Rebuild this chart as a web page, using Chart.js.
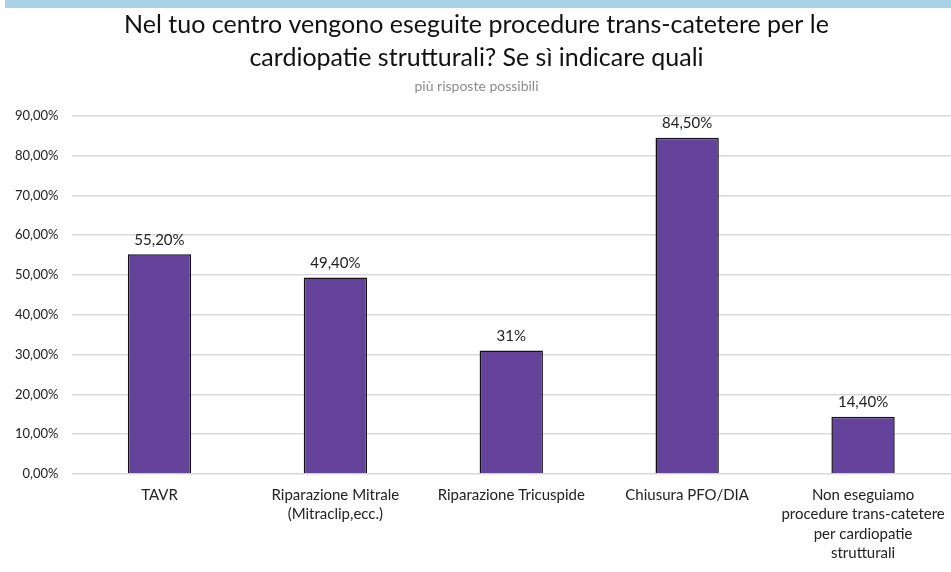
<!DOCTYPE html>
<html>
<head>
<meta charset="utf-8">
<script src="https://cdn.jsdelivr.net/npm/chart.js@4/dist/chart.umd.min.js"></script>
<style>
  html, body { margin: 0; padding: 0; background: #fff; }
  .band { position: absolute; left: 5px; top: 0; width: 946px; height: 8px; background: #a9d1e6; }
  .wrap { position: absolute; left: 0; top: 0; width: 951px; height: 572px; }
</style>
</head>
<body>
<div class="band"></div>
<div class="wrap"><canvas id="chart"></canvas></div>
<script>
// Data
const categories = [
  'TAVR',
  ['Riparazione Mitrale', '(Mitraclip,ecc.)'],
  'Riparazione Tricuspide',
  'Chiusura PFO/DIA',
  ['Non eseguiamo', 'procedure trans-catetere', 'per cardiopatie', 'strutturali']
];
const percentages = [55.2, 49.4, 31, 84.5, 14.4];
const valueLabels = ['55,20%', '49,40%', '31%', '84,50%', '14,40%'];
const yTicks = [0, 10, 20, 30, 40, 50, 60, 70, 80, 90];

const fontFamily = "Lato, 'Open Sans', sans-serif";

// labels above bars
const barLabels = {
  id: 'barLabels',
  afterDatasetsDraw(chart) {
    const ctx = chart.ctx;
    const meta = chart.getDatasetMeta(0);
    ctx.save();
    ctx.font = '15px ' + fontFamily;
    ctx.fillStyle = '#222';
    ctx.textAlign = 'center';
    ctx.textBaseline = 'bottom';
    meta.data.forEach((bar, i) => {
      ctx.fillText(valueLabels[i], bar.x, bar.y - 7);
    });
    ctx.restore();
  }
};

new Chart(document.getElementById('chart').getContext('2d'), {
  type: 'bar',
  data: {
    labels: categories,
    datasets: [{
      data: percentages,
      backgroundColor: '#65439a',
      borderColor: '#111',
      borderWidth: 1.5,
      categoryPercentage: 1,
      barPercentage: 0.36
    }]
  },
  options: {
    responsive: true,
    maintainAspectRatio: false,
    animation: false,
    layout: { padding: { left: 2, right: 0, top: 0, bottom: 10 } },
    plugins: {
      legend: { display: false },
      tooltip: { enabled: false },
      title: {
        display: true,
        text: ['Nel tuo centro vengono eseguite procedure trans-catetere per le', 'cardiopatie strutturali? Se sì indicare quali'],
        color: '#111',
        font: { family: fontFamily, size: 25, weight: 'normal', lineHeight: 1.32 },
        padding: { top: 8, bottom: 0 }
      },
      subtitle: {
        display: true,
        text: 'più risposte possibili',
        color: '#8c8c8c',
        font: { family: fontFamily, size: 14 },
        padding: { top: 4, bottom: 21 }
      }
    },
    scales: {
      x: {
        grid: { display: false },
        border: { display: false },
        afterFit(axis) { axis.height = 88; },
        ticks: {
          color: '#222',
          font: { family: fontFamily, size: 15, lineHeight: 1.3 },
          padding: 3,
          maxRotation: 0,
          autoSkip: false
        }
      },
      y: {
        min: 0,
        max: 90,
        afterBuildTicks(axis) { axis.ticks = yTicks.map(v => ({ value: v })); },
        grid: { color: '#d9d9d9', lineWidth: 1.5, drawTicks: false },
        border: { display: false },
        ticks: {
          color: '#222',
          font: { family: fontFamily, size: 13 },
          padding: 13,
          callback: v => v.toFixed(2).replace('.', ',') + '%'
        }
      }
    }
  },
  plugins: [barLabels]
});
</script>
</body>
</html>
